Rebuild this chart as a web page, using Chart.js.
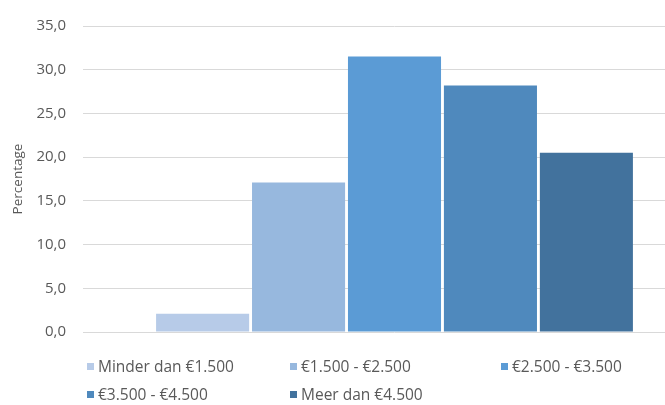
<!DOCTYPE html>
<html lang="nl">
<head>
  <meta charset="UTF-8" />
  <title>Inkomen – Percentage</title>
  <script src="https://cdn.jsdelivr.net/npm/chart.js"></script>
  <style>
    html, body {
      margin: 0;
      padding: 0;
      width: 665px;
      height: 405px;
      overflow: hidden;
      background: #ffffff;
      font-family: "Open Sans", "Noto Sans", sans-serif;
      color: #595959;
    }
    /* canvas is a bit wider than the window, the right edge is cut off like in the source image */
    #chartBox {
      position: absolute;
      left: 0;
      top: 0;
      width: 712px;
      height: 358px;
    }
    #legend {
      position: absolute;
      left: 87px;
      top: 352px;
      display: grid;
      grid-template-columns: 203px 211px 170px;
      grid-auto-rows: 28px;
      font-size: 15.5px;
      color: #595959;
    }
    .legend-item {
      display: flex;
      align-items: center;
      white-space: nowrap;
    }
    .legend-swatch {
      width: 7px;
      height: 7px;
      margin-right: 4px;
      flex: none;
    }
  </style>
</head>
<body>
  <div id="chartBox"><canvas id="incomeChart"></canvas></div>
  <div id="legend"></div>

  <script>
    // Data
    const categories = ['Minder dan €1.500', '€1.500 - €2.500', '€2.500 - €3.500', '€3.500 - €4.500', 'Meer dan €4.500'];
    const percentages = [2.1, 17.1, 31.5, 28.2, 20.5];
    const barColors = ['#b7cbe8', '#97b8de', '#5b9bd5', '#4f89bd', '#42729d'];
    const yMin = 0;
    const yMax = 35;
    const yStep = 5;
    const yTitle = 'Percentage';

    // one dataset per income class, all in one group
    const datasets = categories.map((name, i) => ({
      label: name,
      data: [percentages[i]],
      backgroundColor: barColors[i],
      borderWidth: 0,
      barPercentage: 0.97,
      categoryPercentage: 0.77
    }));

    const ctx = document.getElementById('incomeChart').getContext('2d');
    new Chart(ctx, {
      type: 'bar',
      data: {
        labels: [''],
        datasets: datasets
      },
      options: {
        responsive: true,
        maintainAspectRatio: false,
        animation: false,
        layout: {
          padding: { left: 10, right: 6, top: 7, bottom: 7 }
        },
        plugins: {
          legend: { display: false },
          tooltip: { enabled: false }
        },
        scales: {
          x: {
            display: false
          },
          y: {
            min: yMin,
            max: yMax,
            border: { display: false },
            grid: {
              color: '#d9d9d9',
              lineWidth: 1,
              drawTicks: false
            },
            ticks: {
              stepSize: yStep,
              padding: 17,
              color: '#595959',
              font: { family: '"Open Sans", sans-serif', size: 15 },
              callback: (v) => v.toFixed(1).replace('.', ',')
            },
            title: {
              display: true,
              text: yTitle,
              color: '#595959',
              font: { family: '"Open Sans", sans-serif', size: 13.5 },
              padding: { top: 0, bottom: 0 }
            },
            afterFit: (scale) => {
              scale.width = 73;
            }
          }
        }
      }
    });

    // Legend in the same grid layout as the source
    const legendEl = document.getElementById('legend');
    categories.forEach((name, i) => {
      const item = document.createElement('div');
      item.className = 'legend-item';
      const sw = document.createElement('span');
      sw.className = 'legend-swatch';
      sw.style.background = barColors[i];
      const txt = document.createElement('span');
      txt.textContent = name;
      item.appendChild(sw);
      item.appendChild(txt);
      legendEl.appendChild(item);
    });
  </script>
</body>
</html>
